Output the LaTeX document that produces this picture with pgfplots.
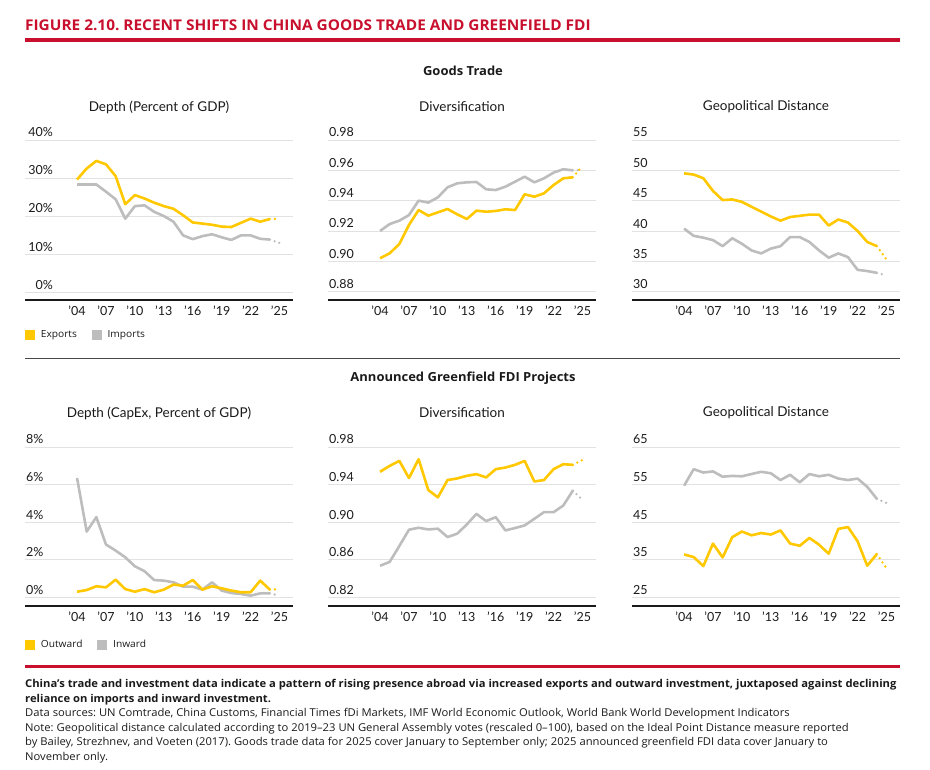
\documentclass[border=0pt]{standalone}
\usepackage{pgfplots}
\usepackage{pgfplotstable}
\pgfplotsset{compat=1.18}
\usepackage{fontspec}
\setmainfont{Lato}
\newfontfamily\footfont{Open Sans}[FakeStretch=1.04]
\frenchspacing

\definecolor{gold}{HTML}{FFC800}
\definecolor{silver}{HTML}{BDBDBD}
\definecolor{imfred}{HTML}{C8102E}
\definecolor{gridgray}{HTML}{E2E2E2}
\definecolor{ink}{HTML}{1A1A1A}

% goods trade
\pgfplotstableread{
yr   ex    im
2004 29.6  28.3
2005 32.5  28.3
2006 34.5  28.3
2007 33.6  26.4
2008 30.5  24.4
2009 23.1  19.3
2010 25.5  22.6
2011 24.6  22.8
2012 23.5  21.1
2013 22.6  20.0
2014 21.9  18.5
2015 20.2  14.9
2016 18.3  13.9
2017 18.0  14.7
2018 17.7  15.2
2019 17.2  14.4
2020 17.1  13.7
2021 18.2  14.9
2022 19.3  14.9
2023 18.5  14.0
2024 19.2  13.8
2025 19.3  12.9
}\tradedepth

\pgfplotstableread{
yr   ex     im
2004 0.9020 0.9200
2005 0.9053 0.9246
2006 0.9114 0.9268
2007 0.9240 0.9305
2008 0.9338 0.9400
2009 0.9301 0.9387
2010 0.9323 0.9422
2011 0.9345 0.9488
2012 0.9310 0.9514
2013 0.9279 0.9521
2014 0.9334 0.9523
2015 0.9327 0.9475
2016 0.9332 0.9470
2017 0.9343 0.9492
2018 0.9338 0.9525
2019 0.9442 0.9558
2020 0.9426 0.9521
2021 0.9448 0.9547
2022 0.9503 0.9585
2023 0.9547 0.9607
2024 0.9554 0.9600
2025 0.9629 0.9602
}\tradediv

\pgfplotstableread{
yr   ex    im
2004 49.5  40.4
2005 49.3  39.2
2006 48.7  38.9
2007 46.6  38.5
2008 45.1  37.5
2009 45.2  38.8
2010 44.8  37.9
2011 44.0  36.8
2012 43.2  36.3
2013 42.4  37.1
2014 41.7  37.5
2015 42.3  39.0
2016 42.5  39.0
2017 42.7  38.2
2018 42.7  36.8
2019 40.9  35.6
2020 41.9  36.3
2021 41.4  35.7
2022 40.0  33.6
2023 38.2  33.4
2024 37.5  33.1
2025 35.3  32.7
}\tradegeo

% greenfield FDI
\pgfplotstableread{
yr   out   in
2004 0.30  6.35
2005 0.39  3.50
2006 0.59  4.27
2007 0.53  2.81
2008 0.94  2.49
2009 0.44  2.13
2010 0.30  1.65
2011 0.44  1.39
2012 0.27  0.92
2013 0.41  0.89
2014 0.68  0.80
2015 0.62  0.57
2016 0.92  0.57
2017 0.41  0.41
2018 0.59  0.80
2019 0.48  0.36
2020 0.36  0.23
2021 0.27  0.18
2022 0.27  0.09
2023 0.89  0.21
2024 0.41  0.21
2025 0.44  0.09
}\fdidepth

\pgfplotstableread{
yr   out    in
2004 0.9536 0.8535
2005 0.9599 0.8577
2006 0.9652 0.8746
2007 0.9469 0.8919
2008 0.9670 0.8940
2009 0.9342 0.8922
2010 0.9264 0.8930
2011 0.9448 0.8841
2012 0.9465 0.8877
2013 0.9493 0.8975
2014 0.9511 0.9088
2015 0.9476 0.9011
2016 0.9564 0.9053
2017 0.9581 0.8912
2018 0.9610 0.8937
2019 0.9652 0.8965
2020 0.9433 0.9035
2021 0.9448 0.9106
2022 0.9564 0.9106
2023 0.9617 0.9176
2024 0.9610 0.9335
2025 0.9662 0.9236
}\fdidiv

\pgfplotstableread{
yr   out   in
2004 36.4  54.7
2005 35.7  59.1
2006 33.3  58.2
2007 39.3  58.5
2008 35.6  57.1
2009 41.0  57.3
2010 42.5  57.2
2011 41.5  57.8
2012 42.1  58.4
2013 41.7  58.0
2014 42.8  56.2
2015 39.3  57.6
2016 38.7  55.6
2017 40.8  57.8
2018 39.0  57.2
2019 36.6  57.6
2020 43.2  56.6
2021 43.7  56.2
2022 39.9  56.6
2023 33.4  54.4
2024 36.5  51.2
2025 32.7  50.1
}\fdigeo

\pgfplotsset{
  panel/.style={
    scale only axis, width=268pt,
    xmin=1998.6, xmax=2026.4,
    axis line style={draw=none},
    major tick length=0pt,
    ymajorgrids, grid style={gridgray, line width=0.9pt},
    xtick={2004,2007,...,2025},
    xticklabels={’04,’07,’10,’13,’16,’19,’22,’25},
    xticklabel style={font=\fontsize{12.5}{12.5}\selectfont, text=ink, yshift=-2pt},
    yticklabel style={font=\fontsize{12.5}{12.5}\selectfont, text=ink, anchor=base west, inner sep=0pt, xshift=1pt, yshift=3pt},
    clip=false,
    legend image code/.code={\fill[##1] (0pt,-4.5pt) rectangle (9pt,4.5pt); \path[draw=none, fill=none] (0pt,0pt) -- (13.5pt,0pt);},
  },
  top/.style={height=160pt},
  bot/.style={height=159pt},
  solid seg/.style={line width=2.6pt, line join=round, forget plot, restrict x to domain=2004:2024},
  proj seg/.style={line width=2.6pt, line cap=round, dash pattern=on 0pt off 5pt, forget plot, restrict x to domain=2024:2025},
  leg/.style={legend style={draw=none, fill=none, at={(0,#1)}, anchor=west, inner sep=0pt,
      font=\footfont\fontsize{9.8}{9.8}\selectfont, text=ink, legend columns=2,
      /tikz/every even column/.append style={column sep=13pt}}},
}
\tikzset{
  hd/.style={font=\footfont\bfseries\fontsize{12.5}{12.5}\selectfont, text=ink},
  ptitle/.style={font=\fontsize{13.5}{13.5}\selectfont, text=ink},
}

\begin{document}
\begin{tikzpicture}
\path[use as bounding box] (0pt,0pt) rectangle (930pt,770pt);

% header
\node[anchor=base west, inner sep=0pt, text=imfred, font=\footfont\bfseries\fontsize{14.8}{14.8}\selectfont] at (25pt,739pt) {FIGURE 2.10. RECENT SHIFTS IN CHINA GOODS TRADE AND GREENFIELD FDI};
\fill[imfred] (25pt,727.5pt) rectangle (900pt,731.5pt);

\node[hd] at (463pt,699pt) {Goods Trade};
\node[ptitle] at (159pt,663pt) {Depth (Percent of GDP)};
\node[ptitle] at (462pt,663pt) {Diversification};
\node[ptitle] at (766pt,663pt) {Geopolitical Distance};

% ---- goods trade: depth
\begin{axis}[panel, top, at={(25pt,470pt)}, anchor=south west,
  ymin=-2.1, ymax=40, ytick={0,10,20,30,40},
  yticklabels={0\%,10\%,20\%,30\%,40\%},
  yticklabel style={anchor=base east, xshift=27pt},
  leg=-0.22]
\addlegendimage{gold}\addlegendentry{Exports}
\addlegendimage{silver}\addlegendentry{Imports}
\addplot[silver, solid seg] table[x=yr, y=im] {\tradedepth};
\addplot[gold, solid seg] table[x=yr, y=ex] {\tradedepth};
\addplot[silver, proj seg] table[x=yr, y=im] {\tradedepth};
\addplot[gold, proj seg] table[x=yr, y=ex] {\tradedepth};
\draw[ink, line width=1.4pt] (rel axis cs:0,0) -- (rel axis cs:1,0);
\end{axis}

% ---- goods trade: diversification
\begin{axis}[panel, top, at={(328pt,470pt)}, anchor=south west,
  ymin=0.8745, ymax=0.98, ytick={0.88,0.90,0.92,0.94,0.96,0.98},
  yticklabels={0.88,0.90,0.92,0.94,0.96,0.98}]
\addplot[silver, solid seg] table[x=yr, y=im] {\tradediv};
\addplot[gold, solid seg] table[x=yr, y=ex] {\tradediv};
\addplot[silver, proj seg] table[x=yr, y=im] {\tradediv};
\addplot[gold, proj seg] table[x=yr, y=ex] {\tradediv};
\draw[ink, line width=1.4pt] (rel axis cs:0,0) -- (rel axis cs:1,0);
\end{axis}

% ---- goods trade: geopolitical distance
\begin{axis}[panel, top, at={(632pt,470pt)}, anchor=south west,
  ymin=28.63, ymax=55, ytick={30,35,40,45,50,55},
  yticklabels={30,35,40,45,50,55}]
\addplot[silver, solid seg] table[x=yr, y=im] {\tradegeo};
\addplot[gold, solid seg] table[x=yr, y=ex] {\tradegeo};
\addplot[silver, proj seg] table[x=yr, y=im] {\tradegeo};
\addplot[gold, proj seg] table[x=yr, y=ex] {\tradegeo};
\draw[ink, line width=1.4pt] (rel axis cs:0,0) -- (rel axis cs:1,0);
\end{axis}

% separator
\draw[ink!80, line width=0.8pt] (25pt,412pt) -- (900pt,412pt);

\node[hd] at (463pt,392pt) {Announced Greenfield FDI Projects};
\node[ptitle] at (159pt,357pt) {Depth (CapEx, Percent of GDP)};
\node[ptitle] at (462pt,357pt) {Diversification};
\node[ptitle] at (766pt,357pt) {Geopolitical Distance};

% ---- FDI: depth
\begin{axis}[panel, bot, at={(25pt,164pt)}, anchor=south west,
  ymin=-0.46, ymax=8, ytick={0,2,4,6,8},
  yticklabels={0\%,2\%,4\%,6\%,8\%},
  leg=-0.245]
\addlegendimage{gold}\addlegendentry{Outward}
\addlegendimage{silver}\addlegendentry{Inward}
\addplot[silver, solid seg] table[x=yr, y=in] {\fdidepth};
\addplot[gold, solid seg] table[x=yr, y=out] {\fdidepth};
\addplot[silver, proj seg] table[x=yr, y=in] {\fdidepth};
\addplot[gold, proj seg] table[x=yr, y=out] {\fdidepth};
\draw[ink, line width=1.4pt] (rel axis cs:0,0) -- (rel axis cs:1,0);
\end{axis}

% ---- FDI: diversification
\begin{axis}[panel, bot, at={(328pt,164pt)}, anchor=south west,
  ymin=0.8107, ymax=0.98, ytick={0.82,0.86,0.90,0.94,0.98},
  yticklabels={0.82,0.86,0.90,0.94,0.98}]
\addplot[silver, solid seg] table[x=yr, y=in] {\fdidiv};
\addplot[gold, solid seg] table[x=yr, y=out] {\fdidiv};
\addplot[silver, proj seg] table[x=yr, y=in] {\fdidiv};
\addplot[gold, proj seg] table[x=yr, y=out] {\fdidiv};
\draw[ink, line width=1.4pt] (rel axis cs:0,0) -- (rel axis cs:1,0);
\end{axis}

% ---- FDI: geopolitical distance
\begin{axis}[panel, bot, at={(632pt,164pt)}, anchor=south west,
  ymin=22.68, ymax=65, ytick={25,35,45,55,65},
  yticklabels={25,35,45,55,65}]
\addplot[silver, solid seg] table[x=yr, y=in] {\fdigeo};
\addplot[gold, solid seg] table[x=yr, y=out] {\fdigeo};
\addplot[silver, proj seg] table[x=yr, y=in] {\fdigeo};
\addplot[gold, proj seg] table[x=yr, y=out] {\fdigeo};
\draw[ink, line width=1.4pt] (rel axis cs:0,0) -- (rel axis cs:1,0);
\end{axis}

% footer
\fill[imfred] (25pt,102pt) rectangle (900pt,105pt);
\begin{scope}[every node/.style={anchor=base west, inner sep=0pt, text=ink, font=\footfont\fontsize{10.8}{10.8}\selectfont}]
\node[font=\footfont\bfseries\fontsize{10.8}{10.8}\selectfont] at (25pt,82pt) {China’s trade and investment data indicate a pattern of rising presence abroad via increased exports and outward investment, juxtaposed against declining};
\node[font=\footfont\bfseries\fontsize{10.8}{10.8}\selectfont] at (25pt,67.5pt) {reliance on imports and inward investment.};
\node at (25pt,53pt) {Data sources: UN Comtrade, China Customs, Financial Times fDi Markets, IMF World Economic Outlook, World Bank World Development Indicators};
\node at (25pt,38.5pt) {Note: Geopolitical distance calculated according to 2019–23 UN General Assembly votes (rescaled 0–100), based on the Ideal Point Distance measure reported};
\node at (25pt,24pt) {by Bailey, Strezhnev, and Voeten (2017). Goods trade data for 2025 cover January to September only; 2025 announced greenfield FDI data cover January to};
\node at (25pt,9.5pt) {November only.};
\end{scope}
\end{tikzpicture}
\end{document}
